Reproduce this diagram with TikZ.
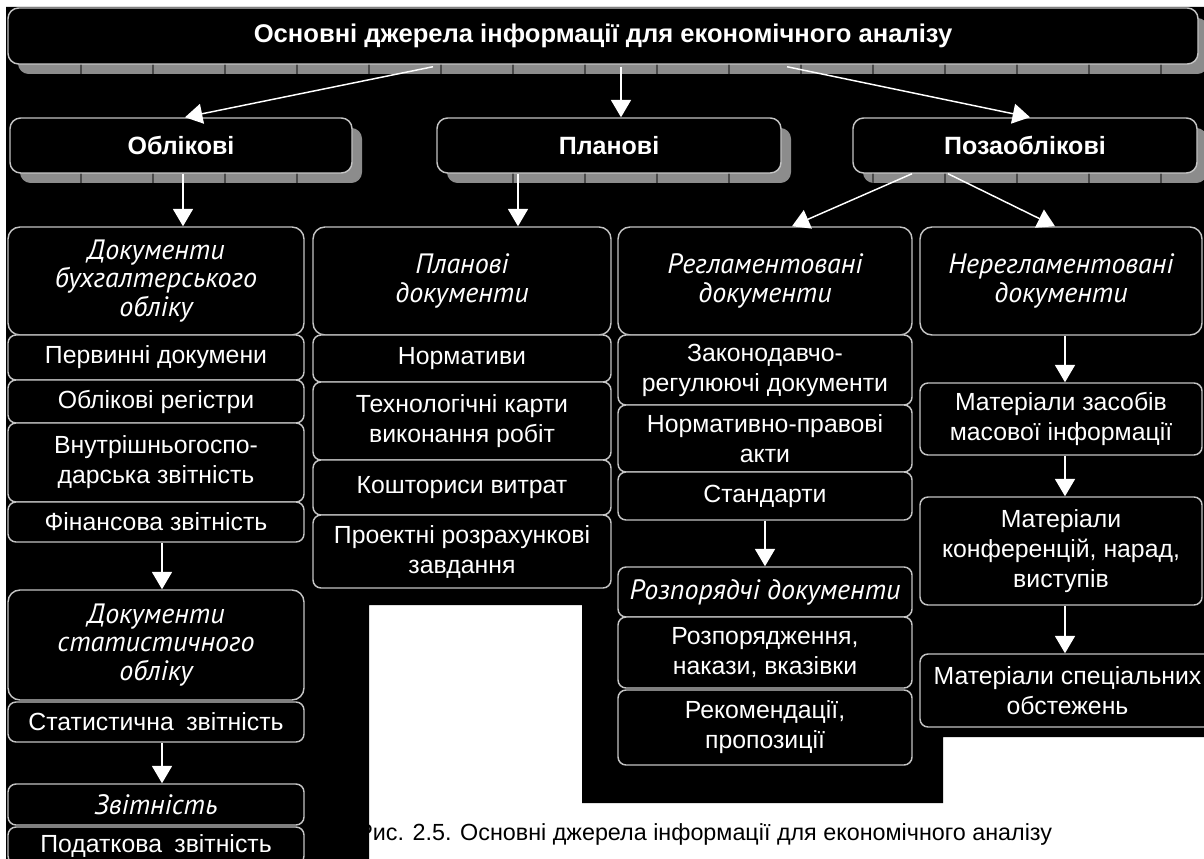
\documentclass[tikz,border=0pt]{standalone}
\usepackage{fontspec}
\setmainfont{Liberation Sans}
\newfontfamily\cursive{PT Sans}
\usetikzlibrary{arrows.meta,calc}

\definecolor{edgegray}{HTML}{C4C4C4}
\definecolor{shadowgray}{HTML}{8C8C8C}
\definecolor{seamgray}{HTML}{4A4A4A}

% a box given by its corners (x1,y1) and (x2,y2), in pixels, y downwards
\newcommand\cellbox[7][]{%
  \node[cell,#1,minimum width={(#5-#3)*0.75pt},minimum height={(#6-#4)*0.75pt}]
    (#2) at ({(#3+#5)/2},{(#4+#6)/2}) {#7};}

% a heading box with its grey, segmented drop shadow
\newcommand\headbox[7][]{%
  \begin{scope}
    \fill[shadowgray, rounded corners=8pt] (#3+10,#4+10) rectangle (#5+10,#6+10);
    \clip[rounded corners=8pt] (#3+10,#4+10) rectangle (#5+10,#6+10);
    \foreach \g in {9,81,...,1233}
      \draw[seamgray, line width=1.2pt] (\g,#4) -- (\g,#6+12);
  \end{scope}
  \cellbox[head,#1]{#2}{#3}{#4}{#5}{#6}{#7}}

\begin{document}
\begin{tikzpicture}[x=0.75pt,y=-0.75pt,
  cell/.style={draw=edgegray, line width=1.1pt, fill=black, text=white,
    rounded corners=6pt, inner sep=1pt, align=center,
    font=\fontsize{18.6}{22.5}\selectfont},
  ital/.style={font=\fontsize{21}{21.5}\selectfont\cursive\itshape},
  head/.style={rounded corners=8pt, font=\fontsize{18.75}{22}\selectfont\bfseries},
  link/.style={draw=white, line width=1.1pt, -{Triangle[width=15pt,length=13pt]}}]

\useasboundingbox (0,0) rectangle (1204,859);
\fill[white] (0,0) rectangle (1204,859);

% black backdrop of the scheme
\fill[black] (6,7) -- (1204,7) -- (1204,737) -- (943,737) -- (943,803)
  -- (582,803) -- (582,605) -- (369,605) -- (369,859) -- (6,859) -- cycle;

% headings
\headbox[font=\fontsize{19.2}{22}\selectfont\bfseries]{T}{8}{8}{1198}{64}{Основні джерела інформації для економічного аналізу}
\headbox{A}{10}{118}{352}{173}{Облікові}
\headbox{B}{437}{118}{781}{173}{Планові}
\headbox{C}{853}{118}{1197}{173}{Позаоблікові}

% column 1
\cellbox[ital,rounded corners=9pt]{d1}{8}{227}{304}{335}{Документи\\бухгалтерського\\обліку}
\cellbox{a1}{8}{335}{304}{380}{Первинні докумени}
\cellbox{a2}{8}{380}{304}{423}{Облікові регістри}
\cellbox{a3}{8}{423}{304}{502}{Внутрішньогоспо-\\дарська звітність}
\cellbox{a4}{8}{502}{304}{542}{Фінансова звітність}
\cellbox[ital,rounded corners=9pt]{s1}{8}{590}{304}{700}{Документи\\статистичного\\обліку}
\cellbox{s2}{8}{702}{304}{742}{Статистична\enspace звітність}
\cellbox[ital]{z1}{8}{784}{304}{825}{Звітність}
\cellbox{z2}{8}{827}{304}{864}{Податкова\enspace звітність}

% column 2
\cellbox[ital,rounded corners=9pt]{d2}{313}{227}{611}{335}{Планові\\документи}
\cellbox{b1}{313}{335}{611}{382}{Нормативи}
\cellbox{b2}{313}{382}{611}{460}{Технологічні карти\\виконання робіт}
\cellbox{b3}{313}{460}{611}{515}{Кошториси витрат}
\cellbox{b4}{313}{515}{611}{588}{Проектні розрахункові\\завдання}

% column 3
\cellbox[ital,rounded corners=9pt]{d3}{618}{227}{912}{335}{Регламентовані\\документи}
\cellbox{c1}{618}{335}{912}{405}{Законодавчо-\\регулюючі документи}
\cellbox{c2}{618}{405}{912}{472}{Нормативно-правові\\акти}
\cellbox{c3}{618}{472}{912}{520}{Стандарти}
\cellbox[ital]{r1}{618}{567}{912}{617}{Розпорядчі документи}
\cellbox{r2}{618}{617}{912}{688}{Розпорядження,\\накази, вказівки}
\cellbox{r3}{618}{690}{912}{765}{Рекомендації,\\пропозиції}

% column 4
\cellbox[ital,rounded corners=9pt]{d4}{920}{227}{1202}{335}{Нерегламентовані\\документи}
\cellbox{m1}{920}{383}{1202}{455}{Матеріали засобів\\масової інформації}
\cellbox{m2}{920}{497}{1202}{605}{Матеріали\\конференцій, нарад,\\виступів}
\cellbox{m3}{920}{654}{1215}{727}{Матеріали спеціальних\\обстежень}

% connectors
\draw[link] ($(T.south)+(-170,2)$) -- ($(A.north)+(4,0)$);
\draw[link] ($(T.south)+(18,2)$) -- ($(B.north)+(12,0)$);
\draw[link] ($(T.south)+(184,2)$) -- ($(C.north)+(5,0)$);
\draw[link] ($(A.south)+(2,0)$) -- ($(d1.north)+(27,0)$);
\draw[link] ($(B.south)+(-91,0)$) -- ($(d2.north)+(56,0)$);
\draw[link] ($(C.south)+(-113,0)$) -- ($(d3.north)+(27,0)$);
\draw[link] ($(C.south)+(-77,0)$) -- ($(d4.north)+(-6,0)$);
\draw[link] ($(a4.south)+(6,0)$) -- ($(s1.north)+(6,0)$);
\draw[link] ($(s2.south)+(6,0)$) -- ($(z1.north)+(6,0)$);
\draw[link] (c3.south) -- (r1.north);
\draw[link] ($(d4.south)+(4,0)$) -- ($(m1.north)+(4,0)$);
\draw[link] ($(m1.south)+(4,0)$) -- ($(m2.north)+(4,0)$);
\draw[link] ($(m2.south)+(4,0)$) -- ($(m3.north)+(-2.5,0)$);

% figure caption, partly hidden by the left column
\begin{scope}
  \clip (369,780) rectangle (1204,859);
  \node[anchor=base west, inner sep=0pt, font=\fontsize{17.5}{20}\selectfont]
    (caption) at (357,840) {Рис. 2.5. Основні джерела інформації для економічного аналізу};
\end{scope}
\end{tikzpicture}
\end{document}
